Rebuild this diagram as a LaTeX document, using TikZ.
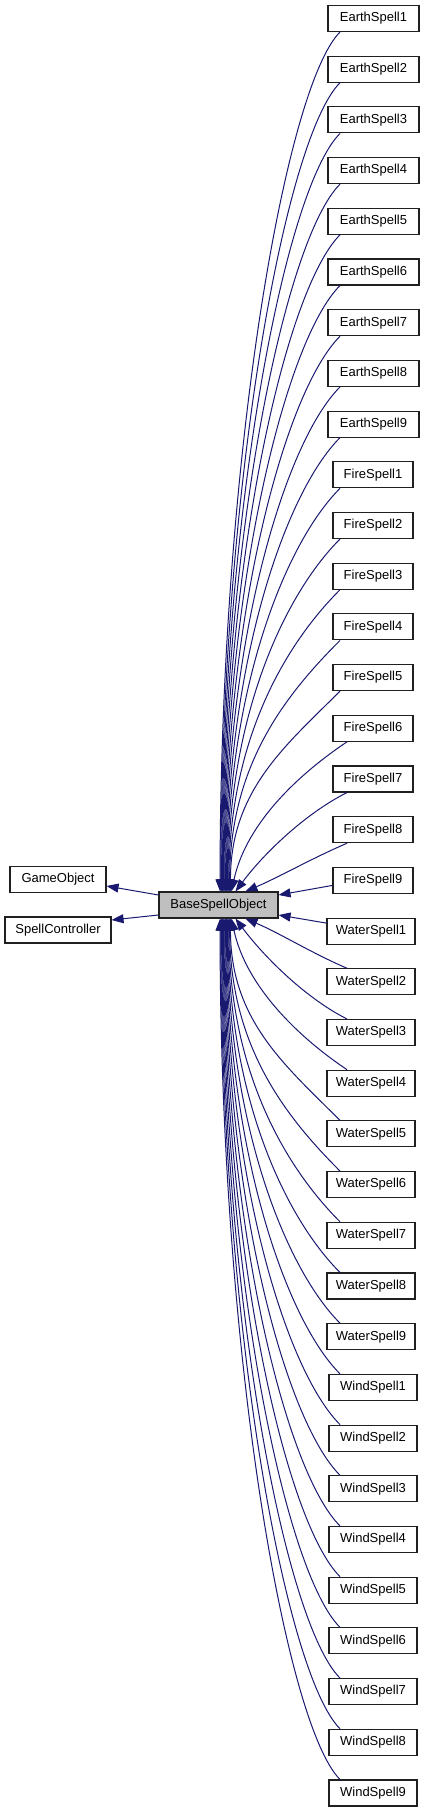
\documentclass[tikz,border=0pt]{standalone}
\usepackage{fontspec}
\setmainfont{Liberation Sans}
\usepackage{tikz}
\usetikzlibrary{arrows.meta,positioning,calc}
\definecolor{dxnavy}{HTML}{191970}
\definecolor{dxgrey}{HTML}{BFBFBF}
\definecolor{dxink}{HTML}{202020}
\tikzset{
  bx/.style={draw=dxink, line width=1.1pt, fill=white, minimum height=26pt, inner sep=1pt, font=\fontsize{13}{15}\selectfont},
  cur/.style={bx, fill=dxgrey},
  inh/.style={draw=dxnavy, line width=1pt, -{Triangle[length=12pt, width=9pt]}},
}
\begin{document}
\begin{tikzpicture}[x=1pt, y=-1pt]
  \useasboundingbox (0,0) rectangle (425,1811);
  \node[cur, minimum width=119pt] (base) at (218.5,905) {BaseSpellObject};
  \node[bx, minimum width=96pt] (gobj) at (58,879.5) {GameObject};
  \node[bx, minimum width=106pt] (ctrl) at (58,930) {SpellController};
  \draw[inh] ([yshift=10pt]base.west) -- ([yshift=-6.5pt]gobj.east);
  \draw[inh] ([yshift=-10pt]base.west) -- ([yshift=10pt]ctrl.east);
  \foreach \fam/\w/\cx/\k in {Earth/91/373.5/0, Fire/80/373/9, Water/88/371/18, Wind/88/373/27}
    \foreach \n in {1,...,9} {
      \pgfmathtruncatemacro\i{\k+\n-1}
      \node[bx, minimum width=\w pt] (spell\i) at (\cx,{18.5+50.7*\i}) {\fam Spell\n};
    }
  \draw[inh] ([yshift=-5pt]spell17.west) -- ([yshift=10pt]base.east);
  \draw[inh] ([yshift=8pt]spell18.west) -- ([yshift=-10pt]base.east);
  \foreach \i in {0,...,16} {
    \pgfmathtruncatemacro\d{16-\i}
    \pgfmathsetmacro\xs{\d<3 ? 347 : 340}
    \pgfmathsetmacro\xe{\d==0 ? 87 : (\d==1 ? 77 : (\d==2 ? 73 : 72-0.8*(\d-3)))}
    \pgfmathsetmacro\ax{\d==0 ? 35 : (\d==1 ? 40 : (\d==2 ? 45 : 55))}
    \pgfmathsetmacro\ay{\d==0 ? 15 : (\d==1 ? 20 : (\d==2 ? 30 : 55))}
    \pgfmathsetmacro\qx{\d==0 ? 35 : (\d==1 ? 30 : (\d==2 ? 15 : 0))}
    \pgfmathsetmacro\qy{\d==0 ? 15 : (\d==1 ? 40 : (\d==2 ? 70 : 0.5*(860.5-50.7*\i)))}
    \draw[inh] (spell\i.south -| \xs,0) .. controls +(-\ax,\ay) and +(\qx,-\qy) .. ([xshift=\xe pt]base.north west);
  }
  \foreach \i in {19,...,35} {
    \pgfmathtruncatemacro\d{\i-19}
    \pgfmathsetmacro\xs{\d<3 ? 347 : 340}
    \pgfmathsetmacro\xe{\d==0 ? 87 : (\d==1 ? 77 : (\d==2 ? 73 : 72-0.8*(\d-3)))}
    \pgfmathsetmacro\ax{\d==0 ? 35 : (\d==1 ? 40 : (\d==2 ? 45 : 55))}
    \pgfmathsetmacro\ay{\d==0 ? 15 : (\d==1 ? 20 : (\d==2 ? 30 : 55))}
    \pgfmathsetmacro\qx{\d==0 ? 35 : (\d==1 ? 30 : (\d==2 ? 15 : 0))}
    \pgfmathsetmacro\qy{\d==0 ? 15 : (\d==1 ? 40 : (\d==2 ? 70 : 0.5*(50.7*\i-912.5)))}
    \draw[inh] (spell\i.north -| \xs,0) .. controls +(-\ax,-\ay) and +(\qx,\qy) .. ([xshift=\xe pt]base.south west);
  }
\end{tikzpicture}
\end{document}
